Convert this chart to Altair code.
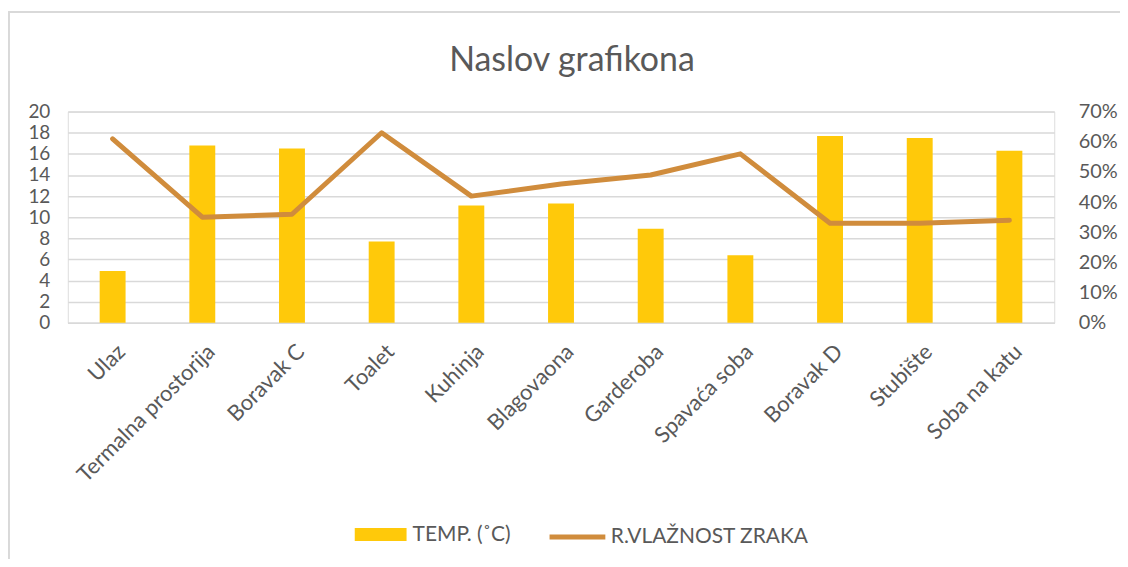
import altair as alt
import pandas as pd

rooms = ["Ulaz", "Termalna prostorija", "Boravak C", "Toalet", "Kuhinja", "Blagovaona",
         "Garderoba", "Spavaća soba", "Boravak D", "Stubište", "Soba na katu"]
temp = [4.9, 16.8, 16.5, 7.7, 11.1, 11.3, 8.9, 6.4, 17.7, 17.5, 16.3]
humidity = [0.61, 0.35, 0.36, 0.63, 0.42, 0.46, 0.49, 0.56, 0.33, 0.33, 0.34]
temp_ticks = [0, 2, 4, 6, 8, 10, 12, 14, 16, 18, 20]
hum_ticks = [0, 0.1, 0.2, 0.3, 0.4, 0.5, 0.6, 0.7]
temp_label = "TEMP. (˚C)"
hum_label = "R.VLAŽNOST ZRAKA"
title_text = "Naslov grafikona"

df = pd.DataFrame({"room": rooms, "temp": temp, "hum": humidity,
                   "s1": temp_label, "s2": hum_label})

FONT = "Lato"
GREY = "#595959"
GRID = "#d9d9d9"
BAR = "#FFC90A"
LINE = "#D08C3C"

x = alt.X("room:N", sort=rooms, title=None,
          scale=alt.Scale(paddingInner=0, paddingOuter=0),
          axis=alt.Axis(labelAngle=-45, labelFontSize=22, labelColor=GREY, labelFont=FONT,
                        ticks=False, domainColor=GRID, domainWidth=1.5, labelPadding=18,
                        labelOffset=2, labelLimit=0))

base = alt.Chart(df)

bars = base.mark_bar(size=26).encode(
    x=x,
    y=alt.Y("temp:Q", scale=alt.Scale(domain=[0, 20]),
            axis=alt.Axis(values=temp_ticks, title=None, grid=True, gridColor=GRID,
                          gridWidth=1.5, domain=False, ticks=False, labelFontSize=19,
                          labelColor=GREY, labelFont=FONT, labelPadding=18, orient="left")),
    color=alt.Color("s1:N", scale=alt.Scale(range=[BAR]),
                    legend=alt.Legend(title=None, orient="none", legendX=288, legendY=398.5,
                                      symbolType="M-1,-0.25L1,-0.25L1,0.25L-1,0.25Z",
                                      symbolSize=2704, symbolStrokeWidth=0,
                                      labelFontSize=21, labelFont=FONT, labelColor=GREY,
                                      labelOffset=6, padding=0, labelLimit=0)),
)

line = base.mark_line(strokeWidth=5, strokeCap="round", strokeJoin="round").encode(
    x=x,
    y=alt.Y("hum:Q", scale=alt.Scale(domain=[0, 0.7]),
            axis=alt.Axis(values=hum_ticks, format=".0%", title=None, grid=False,
                          domain=False, ticks=False, labelFontSize=20, labelColor=GREY,
                          labelFont=FONT, labelPadding=24, orient="right")),
    color=alt.Color("s2:N", scale=alt.Scale(range=[LINE]),
                    legend=alt.Legend(title=None, orient="none", legendX=481, legendY=396.5,
                                      symbolType="stroke", symbolSize=3136,
                                      symbolStrokeWidth=5,
                                      labelFontSize=21, labelFont=FONT, labelColor=GREY,
                                      labelOffset=3, padding=0, labelLimit=0)),
)

frame_top = base.mark_rule(color=GRID, strokeWidth=1.5).encode(
    x=alt.value(-59.5), x2=alt.value(1066), y=alt.value(-100))
frame_left = base.mark_rule(color=GRID, strokeWidth=1.5).encode(
    x=alt.value(-59.5), y=alt.value(-100), y2=alt.value(460))

chart = alt.layer(frame_top, frame_left, bars, line).resolve_scale(
    y="independent", color="independent"
).properties(
    width=990, height=212,
    title=alt.TitleParams(title_text, fontSize=34, font=FONT, fontWeight="normal",
                          color=GREY, anchor="middle", offset=-67, dx=11),
    autosize=alt.AutoSizeParams(type="none"),
    padding={"left": 60, "top": 103, "right": 66, "bottom": 236},
).configure_view(stroke=None).configure(background="white")

chart.save("out.html", embed_options={"renderer": "svg", "actions": False})
